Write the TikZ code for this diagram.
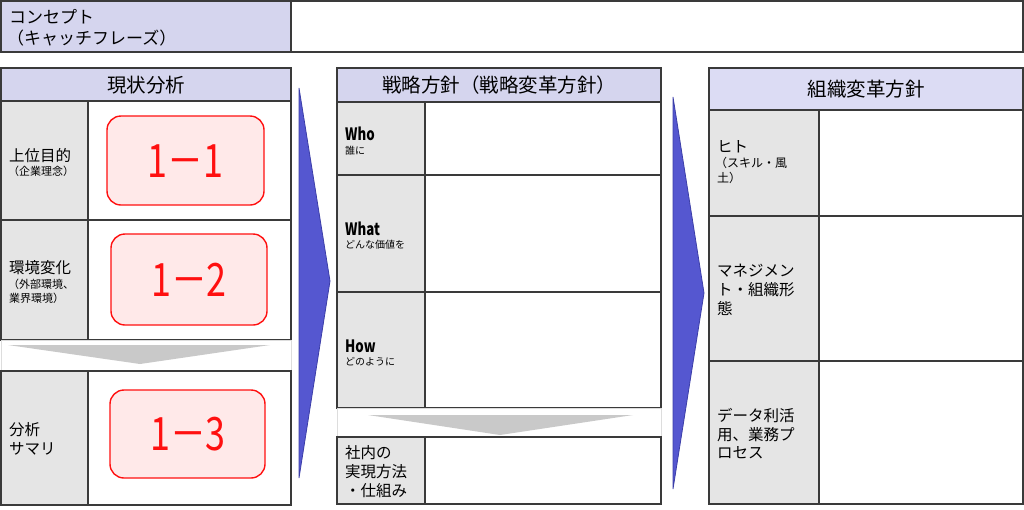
\documentclass[tikz,border=0pt]{standalone}
\usepackage{fontspec}
\setmainfont{Noto Sans CJK JP}
\newfontfamily\condfont[FakeStretch=0.78]{Noto Sans CJK JP}
\definecolor{linec}{HTML}{3A3A3A}
\definecolor{hdrc}{HTML}{D5D5EE}
\definecolor{hdrr}{HTML}{DCDCF4}
\definecolor{labc}{HTML}{E5E5E5}
\definecolor{bluec}{HTML}{5557D0}
\definecolor{blueb}{HTML}{3C3EA8}
\definecolor{chevc}{HTML}{C9C9C9}
\definecolor{bandc}{HTML}{DDDDDD}
\definecolor{redfill}{HTML}{FFE9E9}
\definecolor{redline}{HTML}{FF1010}
\begin{document}
\begin{tikzpicture}[x=1pt,y=-1pt,
  line/.style={draw=linec,line width=1.3pt},
  hdr/.style={line,fill=hdrc},
  hdrR/.style={line,fill=hdrr},
  lab/.style={line,fill=labc},
  cont/.style={line,fill=white},
  band/.style={draw=bandc,line width=0.8pt,fill=white},
  chev/.style={fill=chevc},
  bigarrow/.style={fill=bluec,draw=blueb,line width=0.8pt},
  redbox/.style={draw=redline,fill=redfill,line width=1.4pt,rounded corners=14pt},
  num/.style={text=redline,font=\condfont\fontsize{46}{50}\selectfont,inner sep=0pt},
  txt/.style={anchor=west,inner sep=0pt,font=\fontsize{15.5}{19}\selectfont},
  small/.style={anchor=west,inner sep=0pt,font=\fontsize{11}{14}\selectfont},
  tiny/.style={anchor=west,inner sep=0pt,font=\fontsize{10}{12}\selectfont},
  eng/.style={anchor=west,inner sep=0pt,font=\condfont\bfseries\fontsize{17}{20}\selectfont},
  title/.style={inner sep=0pt,font=\fontsize{19.5}{23}\selectfont}
]
\useasboundingbox (0,0) rectangle (1024,509);
% concept
\draw[hdr] (1,1) rectangle (291,52);
\draw[cont] (291,1) rectangle (1023,52);
\node[txt,font=\fontsize{17}{20}\selectfont] (concept) at (9,17) {コンセプト};
\node[txt,font=\fontsize{17}{20}\selectfont] (catch) at (7,38) {（キャッチフレーズ）};
% left panel
\draw[hdr] (1,68) rectangle (291,101);
\node[title] (lhead) at (146,85) {現状分析};
\draw[lab] (1,101) rectangle (88,220);
\draw[cont] (88,101) rectangle (291,220);
\draw[lab] (1,220) rectangle (88,340);
\draw[cont] (88,220) rectangle (291,340);
\draw[band] (1,340) rectangle (291,371);
\fill[chev] (8,345) -- (270,345) -- (140,364) -- cycle;
\draw[lab] (1,371) rectangle (88,505);
\draw[cont] (88,371) rectangle (291,505);
\draw[redbox] (107,116) rectangle (264,205);
\node[num] (n11) at (185.5,161) {1－1};
\draw[redbox] (111,234) rectangle (267,325);
\node[num] (n12) at (189,280) {1－2};
\draw[redbox] (110,390) rectangle (265,478);
\node[num] (n13) at (188,434) {1－3};
\node[txt] (l1) at (9,156) {上位目的};
\node[small] (l1s) at (8,171) {（企業理念）};
\node[txt] (l2) at (9,268) {環境変化};
\node[small] (l2s) at (8,284) {（外部環境、};
\node[small] (l2t) at (9,298) {業界環境）};
\node[txt] (l3) at (9,430) {分析};
\node[txt] (l3b) at (9,449) {サマリ};
% arrow 1
\draw[bigarrow] (299,88) -- (330,281) -- (299,478) -- cycle;
% middle panel
\draw[hdr] (337,68) rectangle (661,102);
\node[title] (mhead) at (499,85) {戦略方針（戦略変革方針）};
\draw[lab] (337,102) rectangle (425,175);
\draw[cont] (425,102) rectangle (661,175);
\draw[lab] (337,175) rectangle (425,292);
\draw[cont] (425,175) rectangle (661,292);
\draw[lab] (337,292) rectangle (425,408);
\draw[cont] (425,292) rectangle (661,408);
\draw[band] (337,408) rectangle (661,437);
\fill[chev] (368,415) -- (633,415) -- (500,435) -- cycle;
\draw[lab] (337,437) rectangle (425,504);
\draw[cont] (425,437) rectangle (661,504);
\node[eng] (who) at (345,134) {Who};
\node[tiny] (whoj) at (345,151) {誰に};
\node[eng] (what) at (345,229) {What};
\node[tiny] (whatj) at (345,245) {どんな価値を};
\node[eng] (how) at (345,346) {How};
\node[tiny] (howj) at (345,362) {どのように};
\node[txt] (m1) at (345,453) {社内の};
\node[txt] (m2) at (345,472) {実現方法};
\node[txt] (m3) at (345,491) {・仕組み};
% arrow 2
\draw[bigarrow] (673,97) -- (704,293) -- (673,489) -- cycle;
% right panel
\draw[hdrR] (709,68) rectangle (1023,110);
\node[title] (rhead) at (866,89) {組織変革方針};
\draw[lab] (709,110) rectangle (819,216);
\draw[cont] (819,110) rectangle (1023,216);
\draw[lab] (709,216) rectangle (819,361);
\draw[cont] (819,216) rectangle (1023,361);
\draw[lab] (709,361) rectangle (819,504);
\draw[cont] (819,361) rectangle (1023,504);
\node[txt] (r1) at (717,147) {ヒト};
\node[small,font=\fontsize{12}{14}\selectfont] (r1s) at (715,163) {（スキル・風};
\node[small,font=\fontsize{12}{14}\selectfont] (r1t) at (717,178) {土）};
\node[txt] (r2a) at (717,271) {マネジメン};
\node[txt] (r2b) at (717,290) {ト・組織形};
\node[txt] (r2c) at (717,308) {態};
\node[txt] (r3a) at (717,416) {データ利活};
\node[txt] (r3b) at (717,435) {用、業務プ};
\node[txt] (r3c) at (717,453) {ロセス};
\end{tikzpicture}
\end{document}
